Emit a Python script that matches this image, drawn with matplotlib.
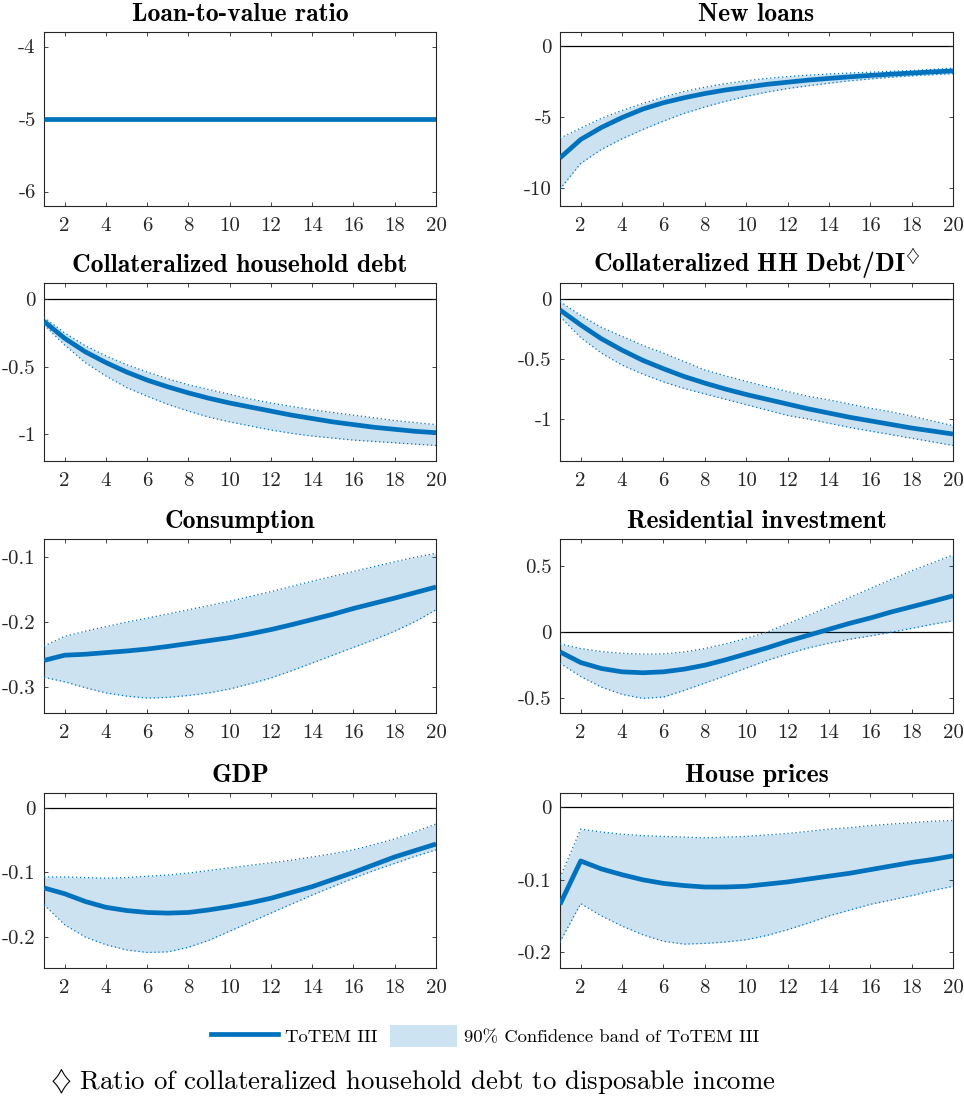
import numpy as np
import matplotlib
matplotlib.use('Agg')
import matplotlib.pyplot as plt
from matplotlib.lines import Line2D
from matplotlib.patches import Patch
from matplotlib.ticker import FuncFormatter

plt.rcParams['font.family'] = ['cmr10']
plt.rcParams['mathtext.fontset'] = 'cm'
plt.rcParams['axes.unicode_minus'] = False

quarters = np.arange(1, 21)

# loan-to-value ratio
ltv_mid = [-5, -5, -5, -5, -5, -5, -5, -5, -5, -5, -5, -5, -5, -5, -5, -5, -5, -5, -5, -5]
ltv_up = ltv_mid
ltv_lo = ltv_mid

# new loans
loans_mid = [-7.9, -6.6, -5.75, -5.05, -4.45, -4.0, -3.65, -3.35, -3.1, -2.9,
             -2.7, -2.55, -2.4, -2.28, -2.17, -2.07, -1.98, -1.9, -1.82, -1.75]
loans_up = [-6.5, -5.8, -5.1, -4.55, -4.05, -3.6, -3.2, -2.9, -2.65, -2.45,
            -2.28, -2.15, -2.05, -1.97, -1.9, -1.84, -1.78, -1.72, -1.65, -1.55]
loans_lo = [-10.1, -8.3, -7.3, -6.55, -5.9, -5.3, -4.75, -4.3, -3.9, -3.55,
            -3.25, -3.0, -2.8, -2.62, -2.45, -2.32, -2.2, -2.1, -2.02, -1.95]

# collateralized household debt
debt_mid = [-0.165, -0.29, -0.39, -0.47, -0.54, -0.6, -0.65, -0.695, -0.735, -0.77,
            -0.80, -0.83, -0.86, -0.885, -0.91, -0.93, -0.95, -0.965, -0.98, -0.99]
debt_up = [-0.135, -0.25, -0.345, -0.42, -0.485, -0.54, -0.59, -0.635, -0.67, -0.705,
           -0.74, -0.77, -0.795, -0.82, -0.84, -0.86, -0.88, -0.9, -0.915, -0.93]
debt_lo = [-0.19, -0.34, -0.47, -0.57, -0.655, -0.72, -0.78, -0.83, -0.875, -0.91,
           -0.94, -0.97, -0.995, -1.015, -1.03, -1.045, -1.055, -1.065, -1.075, -1.085]

# collateralized HH debt / disposable income
dti_mid = [-0.09, -0.215, -0.33, -0.425, -0.51, -0.58, -0.645, -0.7, -0.75, -0.795,
           -0.835, -0.875, -0.915, -0.95, -0.985, -1.015, -1.045, -1.075, -1.1, -1.125]
dti_up = [-0.02, -0.135, -0.235, -0.31, -0.385, -0.45, -0.52, -0.59, -0.64, -0.685,
          -0.73, -0.77, -0.81, -0.84, -0.875, -0.91, -0.94, -0.975, -1.015, -1.055]
dti_lo = [-0.145, -0.32, -0.45, -0.55, -0.625, -0.69, -0.745, -0.79, -0.835, -0.88,
          -0.925, -0.97, -1.0, -1.035, -1.07, -1.1, -1.13, -1.16, -1.19, -1.22]

# consumption
cons_mid = [-0.259, -0.251, -0.2495, -0.247, -0.2445, -0.2415, -0.2375, -0.233, -0.2285, -0.224,
            -0.218, -0.2115, -0.204, -0.196, -0.188, -0.179, -0.171, -0.163, -0.1545, -0.146]
cons_up = [-0.237, -0.222, -0.214, -0.207, -0.2, -0.194, -0.1875, -0.181, -0.1745, -0.168,
           -0.1605, -0.153, -0.145, -0.137, -0.1295, -0.122, -0.1145, -0.107, -0.1, -0.094]
cons_lo = [-0.285, -0.292, -0.301, -0.309, -0.314, -0.317, -0.316, -0.313, -0.309, -0.303,
           -0.295, -0.286, -0.275, -0.263, -0.251, -0.239, -0.227, -0.214, -0.199, -0.181]

# residential investment
resi_mid = [-0.15, -0.23, -0.275, -0.3, -0.307, -0.3, -0.28, -0.25, -0.21, -0.165,
            -0.12, -0.07, -0.025, 0.02, 0.065, 0.105, 0.15, 0.19, 0.23, 0.272]
resi_up = [-0.09, -0.125, -0.148, -0.16, -0.167, -0.165, -0.15, -0.125, -0.09, -0.048,
           -0.002, 0.062, 0.125, 0.19, 0.26, 0.327, 0.395, 0.46, 0.52, 0.58]
resi_lo = [-0.235, -0.335, -0.415, -0.47, -0.5, -0.49, -0.44, -0.385, -0.33, -0.272,
           -0.215, -0.165, -0.12, -0.085, -0.055, -0.03, -0.002, 0.027, 0.058, 0.085]

# GDP
gdp_mid = [-0.124, -0.133, -0.145, -0.154, -0.159, -0.162, -0.163, -0.162, -0.158, -0.153,
           -0.147, -0.14, -0.131, -0.122, -0.111, -0.1, -0.088, -0.076, -0.066, -0.056]
gdp_up = [-0.107, -0.107, -0.108, -0.109, -0.108, -0.106, -0.104, -0.101, -0.097, -0.093,
          -0.089, -0.085, -0.081, -0.076, -0.071, -0.065, -0.057, -0.048, -0.037, -0.025]
gdp_lo = [-0.15, -0.181, -0.2, -0.212, -0.22, -0.224, -0.223, -0.216, -0.205, -0.191,
          -0.177, -0.163, -0.149, -0.135, -0.122, -0.109, -0.097, -0.086, -0.075, -0.065]

# house prices
hp_mid = [-0.134, -0.074, -0.085, -0.093, -0.1, -0.105, -0.108, -0.11, -0.11, -0.109,
          -0.106, -0.103, -0.099, -0.095, -0.091, -0.086, -0.081, -0.076, -0.072, -0.067]
hp_up = [-0.097, -0.03, -0.034, -0.037, -0.039, -0.04, -0.041, -0.042, -0.041, -0.04,
         -0.038, -0.036, -0.033, -0.03, -0.028, -0.025, -0.023, -0.021, -0.019, -0.018]
hp_lo = [-0.186, -0.133, -0.15, -0.164, -0.176, -0.185, -0.189, -0.188, -0.186, -0.183,
         -0.177, -0.169, -0.16, -0.15, -0.142, -0.134, -0.128, -0.122, -0.115, -0.109]

titles = ['Loan-to-value ratio', 'New loans',
          'Collateralized household debt', r'Collateralized HH Debt/DI$^{\diamondsuit}$',
          'Consumption', 'Residential investment',
          'GDP', 'House prices']
mids = [ltv_mid, loans_mid, debt_mid, dti_mid, cons_mid, resi_mid, gdp_mid, hp_mid]
ups = [ltv_up, loans_up, debt_up, dti_up, cons_up, resi_up, gdp_up, hp_up]
los = [ltv_lo, loans_lo, debt_lo, dti_lo, cons_lo, resi_lo, gdp_lo, hp_lo]
ylims = [(-6.2, -3.8), (-11.3, 1.0), (-1.2, 0.12), (-1.35, 0.135),
         (-0.34, -0.072), (-0.61, 0.7), (-0.248, 0.023), (-0.222, 0.02)]
yticks = [[-6, -5, -4], [-10, -5, 0], [-1, -0.5, 0], [-1, -0.5, 0],
          [-0.3, -0.2, -0.1], [-0.5, 0, 0.5], [-0.2, -0.1, 0], [-0.2, -0.1, 0]]

blue = '#0072BD'
band = '#CCE3F2'
dark = '#262626'

W, H = 964, 1097
fig = plt.figure(figsize=(W / 100, H / 100), dpi=100)

col_x = [44, 560]
col_w = [392, 393]
row_top = [32, 283, 539, 793]
row_bot = [206, 461, 713, 968]

for i in range(8):
    r, c = i // 2, i % 2
    ax = fig.add_axes([col_x[c] / W, 1 - row_bot[r] / H,
                       col_w[c] / W, (row_bot[r] - row_top[r]) / H])
    lo_y, hi_y = ylims[i]
    if lo_y < 0 < hi_y:
        ax.axhline(0, color='black', lw=0.9, zorder=1)
    ax.fill_between(quarters, los[i], ups[i], color=blue, alpha=0.2, lw=0, zorder=2)
    ax.plot(quarters, ups[i], color=blue, lw=0.9, ls=(0, (1, 2.2)), zorder=3)
    ax.plot(quarters, los[i], color=blue, lw=0.9, ls=(0, (1, 2.2)), zorder=3)
    ax.plot(quarters, mids[i], color=blue, lw=3.4, zorder=4, solid_capstyle='butt')
    ax.set_xlim(1, 20)
    ax.set_ylim(lo_y, hi_y)
    ax.set_xticks(range(2, 21, 2))
    ax.set_yticks(yticks[i])
    ax.yaxis.set_major_formatter(FuncFormatter(lambda v, p: '%g' % v))
    ax.tick_params(direction='in', length=3, width=0.6, top=True, right=True,
                   labelsize=15, colors=dark, pad=6)
    ax.tick_params(axis='x', pad=8)
    for s in ax.spines.values():
        s.set_color(dark)
        s.set_linewidth(0.8)
    ax.set_title(titles[i], fontsize=18.5, family='cmb10', pad=8, color='black')

handles = [Line2D([], [], color=blue, lw=3.4),
           Patch(facecolor=band, edgecolor='none')]
fig.legend(handles, ['ToTEM III', '90% Confidence band of ToTEM III'],
           loc='center', bbox_to_anchor=(485 / W, 1 - 1036 / H), ncol=2,
           frameon=False, fontsize=13.4, handlelength=3.6, handleheight=1.45,
           handletextpad=0.37, columnspacing=0.7)

fig.text(50 / W, 1 - 1081 / H,
         r'$\diamondsuit$ Ratio of collateralized household debt to disposable income',
         fontsize=19.3, va='center', ha='left')

fig.savefig('out.png', dpi=100)
